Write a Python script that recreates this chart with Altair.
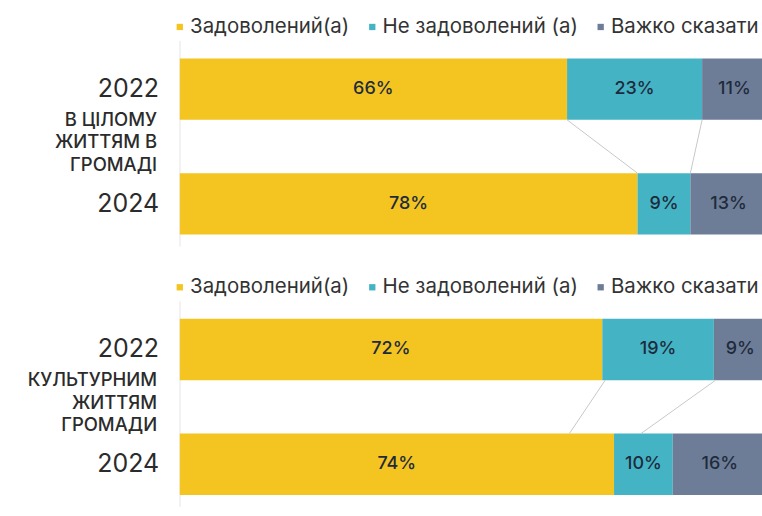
import altair as alt
import pandas as pd

categories = ["Задоволений(а)", "Не задоволений (а)", "Важко сказати"]
colors = ["#F4C520", "#44B4C5", "#6E7D97"]
years = ["2022", "2024"]

panel1_title = ["В ЦІЛОМУ", "ЖИТТЯМ В", "ГРОМАДІ"]
panel1_2022 = [66, 23, 11]
panel1_2024 = [78, 9, 13]
panel1_links_from = [66, 89]
panel1_links_to = [78, 87]

panel2_title = ["КУЛЬТУРНИМ", "ЖИТТЯМ", "ГРОМАДИ"]
panel2_2022 = [72, 19, 9]
panel2_2024 = [74, 10, 16]
panel2_links_from = [72.5, 91.3]
panel2_links_to = [66.4, 78.6]

FONT = "Inter"


def panel(title_lines, v2022, v2024, links_from, links_to):
    rows = []
    for yr, vals in zip(years, [v2022, v2024]):
        start = 0
        for i, (c, v) in enumerate(zip(categories, vals)):
            rows.append(dict(year=yr, cat=c, order=i, value=v, start=start,
                             end=start + v, mid=start + v / 2, label=f"{v}%"))
            start += v
    df = pd.DataFrame(rows)
    links = pd.DataFrame({"year": ["2022"] * len(links_from), "year2": ["2024"] * len(links_from),
                          "start": links_from, "end": links_to})

    xscale = alt.Scale(domain=[0, 99.2], nice=False, zero=True)
    yscale = alt.Scale(domain=years, paddingInner=0.465, paddingOuter=0.128, align=0.61)
    yaxis = alt.Axis(ticks=False, grid=False, domain=True, domainColor="#E6E6E6",
                     labelFontSize=25, labelFont=FONT, labelColor="#2B2B2B",
                     labelPadding=21, labelFontWeight=400,
                     titleAngle=0, titleAlign="right", titleBaseline="middle",
                     titleX=-23, titleY=79, titleFontSize=18.5, titleFont=FONT,
                     titleFontWeight=500, titleColor="#2B2B2B", titleLineHeight=22.5)

    base = alt.Chart(df)
    bars = base.mark_bar(clip=True).encode(
        x=alt.X("start:Q", scale=xscale, axis=None),
        x2="end:Q",
        y=alt.Y("year:N", scale=yscale, sort=years, title=title_lines, axis=yaxis),
        color=alt.Color("cat:N", sort=categories,
                        scale=alt.Scale(domain=categories, range=colors),
                        legend=alt.Legend(orient="none", legendX=-10, legendY=-24,
                                          direction="horizontal", title=None,
                                          symbolType="square", symbolSize=40,
                                          symbolStrokeWidth=0, labelLimit=0,
                                          labelFontSize=20.5, labelFont=FONT, labelColor="#333333",
                                          columnPadding=12, labelOffset=0, padding=0)),
        order=alt.Order("order:Q"),
    )
    rules = alt.Chart(links).mark_rule(color="#C8C8C8", strokeWidth=1).encode(
        x=alt.X("start:Q", scale=xscale, axis=None),
        x2="end:Q",
        y=alt.Y("year:N", scale=yscale, sort=years, title=title_lines, axis=yaxis, bandPosition=1),
        y2=alt.Y2("year2:N", bandPosition=0),
    )
    text = base.mark_text(fontSize=18, font=FONT, fontWeight=500, color="#1E2B3C").encode(
        x=alt.X("mid:Q", scale=xscale, axis=None),
        y=alt.Y("year:N", scale=yscale, sort=years, title=title_lines, axis=yaxis),
        text="label:N",
    )
    return alt.layer(bars, rules, text).properties(width=584, height=206)


p1 = panel(panel1_title, panel1_2022, panel1_2024, panel1_links_from, panel1_links_to)
p2 = panel(panel2_title, panel2_2022, panel2_2024, panel2_links_from, panel2_links_to)

chart = alt.vconcat(p1, p2, spacing=31).resolve_scale(color="independent").resolve_legend(
    color="independent"
).properties(
    padding={"left": 27, "top": 16, "right": 0, "bottom": 0},
    background="white",
).configure_view(stroke=None)

chart.save("out.html", embed_options={"renderer": "svg", "actions": False})
